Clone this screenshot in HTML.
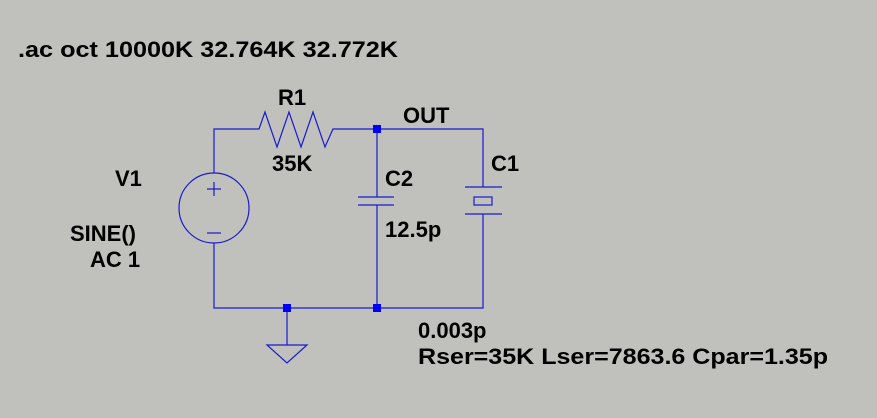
<!DOCTYPE html>
<html><head><style>
body{margin:0;background:#c0c0bc;}
svg{display:block}
text{font-family:"Liberation Sans",Arial,sans-serif;font-weight:bold;font-size:22px;fill:#000}
</style></head><body>
<svg width="877" height="418" viewBox="0 0 877 418">
<rect width="877" height="418" fill="#c0c0bc"/>
<g stroke="#1a1ad0" stroke-width="1.2" fill="none">
<polyline points="214,173 214,129 259,129 265,112 277,147 289,112 301,147 313,112 325,147 333,129 483,129 483,187"/>
<polyline points="214,243 214,308 483,308 483,214"/>
<line x1="377" y1="129" x2="377" y2="197"/>
<line x1="377" y1="205" x2="377" y2="308"/>
<line x1="358" y1="197" x2="394" y2="197"/>
<line x1="358" y1="205" x2="394" y2="205"/>
<line x1="465" y1="187" x2="502" y2="187"/>
<line x1="465" y1="214" x2="502" y2="214"/>
<rect x="474" y="197" width="18" height="8"/>
<circle cx="214" cy="208" r="35"/>
<line x1="207" y1="189" x2="221" y2="189"/><line x1="214" y1="182" x2="214" y2="196"/>
<line x1="207" y1="233" x2="221" y2="233"/>
<line x1="287" y1="308" x2="287" y2="345"/>
<polygon points="267,345 307,345 287,363"/>
</g>
<g fill="#0000ff">
<rect x="373" y="125" width="8" height="8"/>
<rect x="373" y="304" width="8" height="8"/>
<rect x="283" y="304" width="8" height="8"/>
</g>
<text x="18" y="57" textLength="380" lengthAdjust="spacingAndGlyphs">.ac oct 10000K 32.764K 32.772K</text>
<text x="278" y="105">R1</text>
<text x="403" y="123">OUT</text>
<text x="272" y="171">35K</text>
<text x="115" y="186">V1</text>
<text x="385" y="186">C2</text>
<text x="491" y="171">C1</text>
<text x="385" y="237">12.5p</text>
<text x="70" y="241">SINE()</text>
<text x="90" y="267">AC 1</text>
<text x="418" y="338">0.003p</text>
<text x="418" y="364" textLength="410" lengthAdjust="spacingAndGlyphs">Rser=35K Lser=7863.6 Cpar=1.35p</text>
</svg>
</body></html>
